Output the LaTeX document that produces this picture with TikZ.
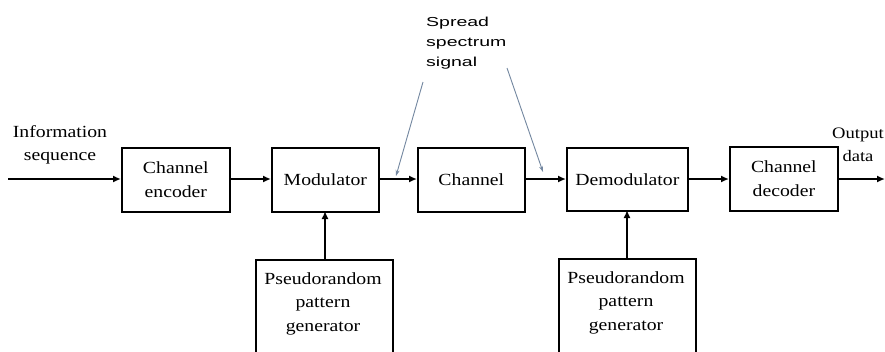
\documentclass[tikz,border=0pt]{standalone}
\usepackage{fontspec}
\setmainfont{Liberation Serif}[FakeStretch=1.16]
\newfontfamily\lblfont{Liberation Sans}[FakeStretch=1.5]
\usetikzlibrary{arrows.meta}
\definecolor{lead}{RGB}{115,135,160}
\tikzset{
  blk/.style={draw=black, line width=1.7pt, inner sep=0pt, anchor=north west},
  txt/.style={font=\fontsize{17}{23.5}\selectfont, align=center, inner sep=0pt},
  flow/.style={line width=1.7pt, -{Latex[length=8pt,width=7pt]}},
  leader/.style={draw=lead, line width=0.9pt, -{Stealth[length=6pt,width=4pt]}},
}
\begin{document}
\begin{tikzpicture}[x=1pt,y=-1pt]
\useasboundingbox (0,0) rectangle (885,351);
\fill[white] (0,0) rectangle (885,351);
\clip (0,0) rectangle (885,351);
% main blocks
\node[blk, minimum width=108pt, minimum height=64pt] (enc) at (121,147) {};
\node[txt] at (enc.center) {Channel\\encoder};
\node[blk, minimum width=107pt, minimum height=64pt] (mod) at (271,147) {};
\node[txt] at (mod.center) {Modulator};
\node[blk, minimum width=107pt, minimum height=64pt] (chan) at (417,147) {};
\node[txt] at (chan.center) {Channel};
\node[blk, minimum width=121pt, minimum height=63pt] (dem) at (566,147) {};
\node[txt] at (dem.center) {Demodulator};
\node[blk, minimum width=108pt, minimum height=64pt] (dec) at (729,146) {};
\node[txt] at (dec.center) {Channel\\decoder};
% pattern generators
\node[blk, minimum width=137pt, minimum height=120pt] (pg1) at (255,259) {};
\node[txt, anchor=north] at (323,272) {Pseudorandom\\pattern\\generator};
\node[blk, minimum width=137pt, minimum height=120pt] (pg2) at (558,258) {};
\node[txt, anchor=north] at (626,271) {Pseudorandom\\pattern\\generator};
% in/out
\coordinate (in) at (8,179);
\coordinate (out) at (885,179);
\node[txt] (intext) at (60,145) {Information\\sequence};
\node[txt, font=\fontsize{16}{23.5}\selectfont] (outtext) at (858,145) {Output\\data};
% flow arrows
\draw[flow] (in) -- (enc.west |- in);
\draw[flow] (enc.east |- in) -- (mod.west |- in);
\draw[flow] (mod.east |- in) -- (chan.west |- in);
\draw[flow] (chan.east |- in) -- (dem.west |- in);
\draw[flow] (dem.east |- in) -- (dec.west |- in);
\draw[flow] (dec.east |- in) -- (out);
\draw[flow] (pg1.north -| 325,0) -- (325,211);
\draw[flow] (pg2.north -| 627,0) -- (627,210);
% spread spectrum label
\node[font=\lblfont\fontsize{13}{20}\selectfont, align=left, anchor=north west, inner sep=0pt] (ss) at (426,17) {Spread\\spectrum\\signal};
\coordinate (l1a) at (423,82);
\coordinate (l1b) at (396,176);
\coordinate (l2a) at (507,68);
\coordinate (l2b) at (543,172);
\draw[leader] (l1a) -- (l1b);
\draw[leader] (l2a) -- (l2b);
\end{tikzpicture}
\end{document}
